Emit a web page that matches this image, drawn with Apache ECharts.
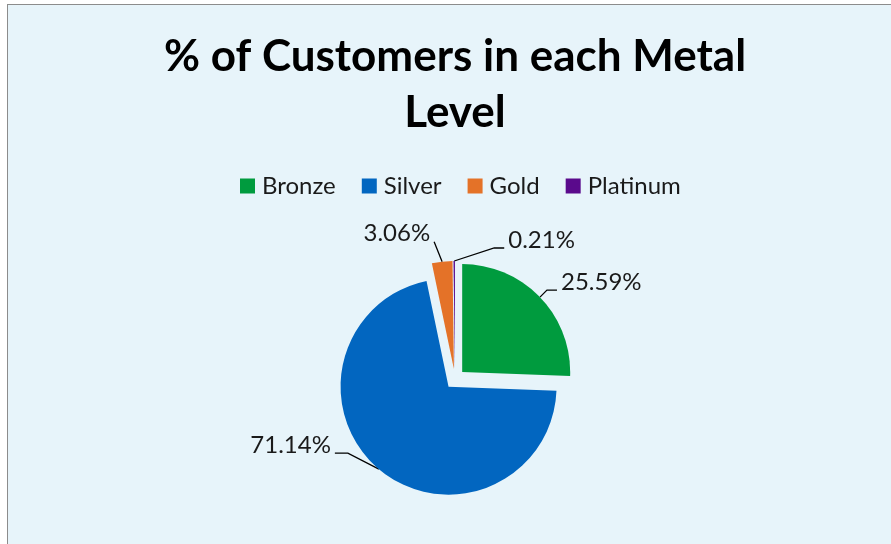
<!DOCTYPE html>
<html><head><meta charset="utf-8">
<script src="https://cdn.jsdelivr.net/npm/echarts@6/dist/echarts.min.js"></script>
<style>
html,body{margin:0;padding:0;width:891px;height:544px;overflow:hidden;background:#ffffff;}
#frame{position:absolute;left:7px;top:4px;width:900px;height:600px;border:1.5px solid #8c8c8c;background:#e7f4fa;}
#chart{position:absolute;left:9px;top:6px;width:892px;height:560px;}
</style></head><body>
<div id="frame"></div>
<div id="chart"></div>
<script>
const titleLines = ['% of Customers in each Metal', 'Level'];
const categories = ['Bronze', 'Silver', 'Gold', 'Platinum'];
const percentages = [25.59, 71.14, 3.06, 0.21];
const sliceColors = ['#009b3e', '#0266c0', '#e47228', '#5a0a8c'];
// leader-line styling relative to the slice's arc midpoint: [bendDx, bendDy, endDx, endDy, side]
const leaderStyle = [
  [7, -7, 17, -7, 'left'],
  [-31, -16, -44, -16, 'right'],
  [-4, -10, -8, -20, 'right'],
  [40, -13, 50, -13, 'left']
];
const explodeOffset = 10;

const chart = echarts.init(document.getElementById('chart'), null, {renderer: 'canvas'});
const pieData = categories.map((name, i) => ({
  name: name,
  value: percentages[i],
  selected: true,
  itemStyle: {color: sliceColors[i]}
}));
chart.setOption({
  animation: false,
  title: {
    text: titleLines.join('\n'),
    left: 'center',
    top: 23,
    padding: 0,
    textStyle: {fontFamily: 'Lato', fontWeight: 'bold', fontSize: 44, lineHeight: 56, color: '#000'}
  },
  legend: {
    data: categories,
    top: 168,
    left: 231,
    padding: 0,
    icon: 'rect',
    itemWidth: 15,
    itemHeight: 15,
    itemGap: 26,
    selectedMode: false,
    textStyle: {fontFamily: 'Lato', fontSize: 24, lineHeight: 24, color: '#1a1a1a', padding: [0, 0, 0, 2]}
  },
  series: [{
    type: 'pie',
    center: [446, 373],
    radius: 108,
    startAngle: 90,
    clockwise: true,
    selectedMode: 'multiple',
    selectedOffset: explodeOffset,
    avoidLabelOverlap: false,
    emphasis: {disabled: true},
    label: {
      show: true,
      position: 'outside',
      fontFamily: 'Lato',
      fontSize: 24,
      color: '#1a1a1a',
      formatter: p => p.value.toFixed(2) + '%'
    },
    labelLine: {show: true, length: 10, length2: 10, lineStyle: {color: '#000', width: 1.3}},
    labelLayout: function (params) {
      const s = leaderStyle[params.dataIndex];
      const p0 = params.labelLinePoints[0];
      const bend = [p0[0] + s[0], p0[1] + s[1]];
      const end = [p0[0] + s[2], p0[1] + s[3]];
      const r = params.labelRect;
      const anchorX = params.align === 'right' ? r.x + r.width : (params.align === 'center' ? r.x + r.width / 2 : r.x);
      const anchorY = r.y + r.height / 2;
      const targetX = end[0] + (s[4] === 'left' ? 4 : -4);
      const targetY = end[1] - 8;
      return {
        dx: targetX - anchorX,
        dy: targetY - anchorY,
        align: s[4],
        labelLinePoints: [p0, bend, end]
      };
    },
    data: pieData
  }]
});
</script>
</body></html>
